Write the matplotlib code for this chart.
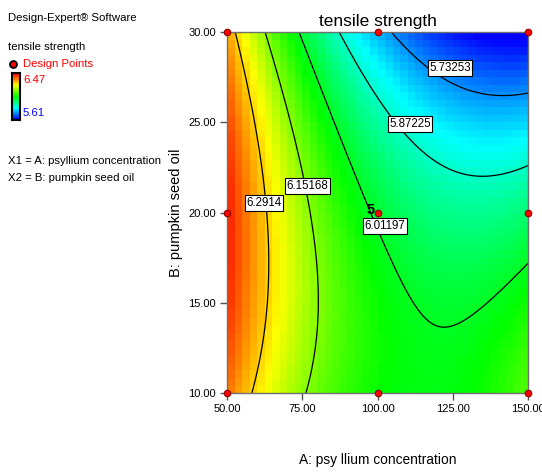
import numpy as np
import matplotlib
matplotlib.use('Agg')
import matplotlib.pyplot as plt
from matplotlib.colors import LinearSegmentedColormap

plt.rcParams['font.family'] = ['Liberation Sans', 'DejaVu Sans']

# Fitted quadratic model in coded units (x1 = A, x2 = B):
# intercept, x1, x2, x1*x2, x1^2, x2^2
coef_terms = ['b0', 'A', 'B', 'AB', 'A2', 'B2']
coef_values = [6.000, -0.2507, -0.140, -0.120, 0.197, -0.095]

A_range = [50.0, 150.0]
B_range = [10.0, 30.0]

# design points (A, B)
design_A = [50, 50, 50, 100, 100, 100, 150, 150, 150]
design_B = [10, 20, 30, 10, 20, 30, 10, 20, 30]
center_reps = 5

contour_levels = [5.73253, 5.87225, 6.01197, 6.15168, 6.2914]
label_A = [124.1, 110.8, 102.5, 76.6, 62.3]
label_B = [28.0, 24.9, 19.25, 21.47, 20.53]

color_low, color_high = 5.61, 6.47
x_ticks = [50.00, 75.00, 100.00, 125.00, 150.00]
y_ticks = [10.00, 15.00, 20.00, 25.00, 30.00]


def response(A, B):
    x1 = (A - 100.0) / 50.0
    x2 = (B - 20.0) / 10.0
    b0, b1, b2, b12, b11, b22 = coef_values
    return b0 + b1*x1 + b2*x2 + b12*x1*x2 + b11*x1**2 + b22*x2**2


cmap = LinearSegmentedColormap.from_list(
    'de', ['#0000ff', '#00ffff', '#00ff00', '#ffff00', '#ff0000'])

fig = plt.figure(figsize=(5.42, 4.73), dpi=100)
ax = fig.add_axes([227/542, 1-393/473, 301/542, 361/473])

# blocky colour map like Design-Expert
xe = np.linspace(A_range[0], A_range[1], 41)
ye = np.linspace(B_range[0], B_range[1], 49)
xc = (xe[:-1] + xe[1:]) / 2
yc = (ye[:-1] + ye[1:]) / 2
XC, YC = np.meshgrid(xc, yc)
ax.pcolormesh(xe, ye, response(XC, YC), cmap=cmap, vmin=color_low, vmax=color_high,
              shading='flat')

xf = np.linspace(A_range[0], A_range[1], 300)
yf = np.linspace(B_range[0], B_range[1], 300)
XF, YF = np.meshgrid(xf, yf)
cs = ax.contour(XF, YF, response(XF, YF), levels=contour_levels, colors='black',
                linewidths=0.9)
fmt = {lv: '%g' % lv for lv in contour_levels}
labels = ax.clabel(cs, levels=contour_levels, fmt=fmt, inline=False, fontsize=8.3,
                   manual=list(zip(label_A, label_B)))
label_pos = {fmt[lv]: (a, b) for lv, a, b in zip(contour_levels, label_A, label_B)}
for t in labels:
    t.set_rotation(0)
    t.set_position(label_pos[t.get_text()])
    t.set_bbox(dict(facecolor='white', edgecolor='black', pad=1.2, lw=0.8))

ax.scatter(design_A, design_B, s=22, c='#ff0000', edgecolors='#8b0000',
           linewidths=0.8, zorder=6, clip_on=False)
ax.text(99.2, 20.15, str(center_reps), fontsize=10.5, fontweight='bold',
        ha='right', va='center', zorder=7)

ax.set_xlim(A_range)
ax.set_ylim(B_range)
ax.set_xticks(x_ticks)
ax.set_yticks(y_ticks)
ax.set_xticklabels(['%.2f' % v for v in x_ticks])
ax.set_yticklabels(['%.2f' % v for v in y_ticks])
ax.tick_params(direction='out', length=5, width=1, color='#555555', labelsize=8,
               pad=3)
for s in ax.spines.values():
    s.set_color('#707070')
    s.set_linewidth(1)

ax.set_title('tensile strength', fontsize=12.5, pad=4)
ax.set_xlabel('A: psy llium concentration', fontsize=9.9, labelpad=28)
ax.set_ylabel('B: pumpkin seed oil', fontsize=10.5, labelpad=4)

# left side legend panel
fs = 8.2
fig.text(8/542, 1-18/473, 'Design-Expert® Software', fontsize=fs, va='center')
fig.text(8/542, 1-47/473, 'tensile strength', fontsize=fs, va='center')
fig.text(23/542, 1-64/473, 'Design Points', fontsize=fs, va='center', color='red')
fig.add_artist(plt.Line2D([13/542], [1-64/473], marker='o', markersize=5,
                          markerfacecolor='red', markeredgecolor='black',
                          markeredgewidth=1.3, transform=fig.transFigure))
cax = fig.add_axes([12/542, 1-120/473, 8/542, 47/473])
cax.imshow(np.linspace(1, 0, 64).reshape(-1, 1), cmap=cmap, aspect='auto')
cax.set_xticks([])
cax.set_yticks([])
for s in cax.spines.values():
    s.set_color('black')
    s.set_linewidth(1.5)
fig.text(23/542, 1-80/473, '%.2f' % color_high, fontsize=fs, va='center', color='red')
fig.text(23/542, 1-113/473, '%.2f' % color_low, fontsize=fs, va='center', color='blue')
fig.text(8/542, 1-161/473, 'X1 = A: psyllium concentration', fontsize=fs, va='center')
fig.text(8/542, 1-178/473, 'X2 = B: pumpkin seed oil', fontsize=fs, va='center')

fig.savefig('out.png', dpi=100)
